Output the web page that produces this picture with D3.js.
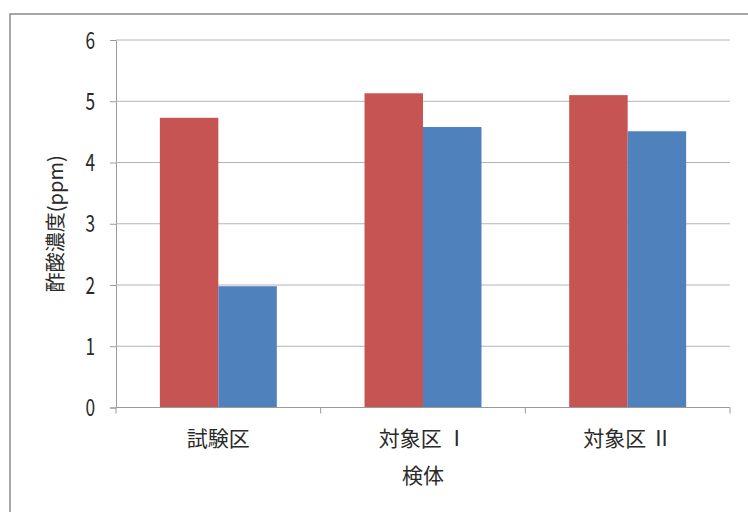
<!DOCTYPE html>
<html>
<head>
<meta charset="utf-8">
<script src="https://cdn.jsdelivr.net/npm/d3@7"></script>
<style>
  html, body { margin: 0; padding: 0; background: #fff; }
  svg { display: block; }
  text { font-family: "Noto Sans CJK JP", "Noto Sans", sans-serif; fill: #2a2a2a; }
</style>
</head>
<body>
<svg id="chart" width="748" height="512"></svg>
<script>
// Samples and acetic-acid concentration (ppm) for the two measured series
const categories = ["試験区", "対象区 Ⅰ", "対象区 Ⅱ"];
const seriesNames = ["前", "後"];
const seriesA = [4.73, 5.13, 5.10];
const seriesB = [1.98, 4.58, 4.51];
const yTicks = [0, 1, 2, 3, 4, 5, 6];
const yTitle = "酢酸濃度(ppm)";
const xTitle = "検体";
const colors = ["#c65452", "#4f81bd"];

const svg = d3.select("#chart");
const margin = { left: 116, right: 18, top: 40, bottom: 104.5 };
const W = 748, H = 512;
const plotW = W - margin.left - margin.right;
const plotH = H - margin.top - margin.bottom;

// Outer chart frame (extends past the right and bottom edges)
svg.append("rect")
  .attr("x", 10).attr("y", 14)
  .attr("width", 760).attr("height", 520)
  .attr("fill", "#fff")
  .attr("stroke", "#8a8a8a")
  .attr("stroke-width", 1.5);

const g = svg.append("g").attr("transform", `translate(${margin.left},${margin.top})`);

const x = d3.scaleBand().domain(categories).range([0, plotW]).paddingInner(0).paddingOuter(0);
// Gap between groups is 150% of a single bar width
const barW = x.bandwidth() / 3.5;
const x1 = d3.scaleBand().domain(seriesNames).range([0.75 * barW, x.bandwidth() - 0.75 * barW]).padding(0);
const y = d3.scaleLinear().domain([0, 6]).range([plotH, 0]);

// Horizontal gridlines and y-axis
const yAxis = g.append("g")
  .call(d3.axisLeft(y).tickValues(yTicks).tickSize(6).tickPadding(10).tickFormat(d3.format("d")));
yAxis.select(".domain").attr("stroke", "#9a9a9a");
yAxis.selectAll(".tick line").attr("stroke", "#9a9a9a");
yAxis.selectAll(".tick text")
  .style("font-size", "24px")
  .attr("transform", "scale(0.72,1)")
  .attr("x", -21 / 0.72)
  .attr("dy", "0.34em")
  .attr("fill", "#333");

g.append("g").selectAll("line.grid")
  .data(yTicks.filter(d => d > 0))
  .join("line")
  .attr("class", "grid")
  .attr("x1", 0).attr("x2", plotW)
  .attr("y1", d => y(d)).attr("y2", d => y(d))
  .attr("stroke", "#b4b4b4").attr("stroke-width", 1);

// Bars
const rows = categories.map((c, i) => ({ cat: c, vals: [seriesA[i], seriesB[i]] }));
const grp = g.append("g").selectAll("g.cat")
  .data(rows).join("g")
  .attr("class", "cat")
  .attr("transform", d => `translate(${x(d.cat)},0)`);
grp.selectAll("rect")
  .data(d => d.vals.map((v, j) => ({ key: seriesNames[j], v, j })))
  .join("rect")
  .attr("x", d => x1(d.key))
  .attr("width", x1.bandwidth())
  .attr("y", d => y(d.v))
  .attr("height", d => plotH - y(d.v))
  .attr("fill", d => colors[d.j]);

// x-axis with ticks at category boundaries
const xb = g.append("g").attr("transform", `translate(0,${plotH})`);
xb.append("line").attr("x1", 0).attr("x2", plotW).attr("stroke", "#9a9a9a");
xb.selectAll("line.tk")
  .data(d3.range(categories.length + 1))
  .join("line").attr("class", "tk")
  .attr("x1", i => i * x.bandwidth()).attr("x2", i => i * x.bandwidth())
  .attr("y1", 0).attr("y2", 6)
  .attr("stroke", "#9a9a9a");
xb.selectAll("text.cat")
  .data(categories)
  .join("text").attr("class", "cat")
  .attr("x", d => x(d) + x.bandwidth() / 2)
  .attr("y", 38)
  .attr("text-anchor", "middle")
  .style("font-size", "21px")
  .text(d => d);

// Axis titles
g.append("text")
  .attr("x", plotW / 2).attr("y", plotH + 75)
  .attr("text-anchor", "middle")
  .style("font-size", "21px")
  .text(xTitle);

svg.append("text")
  .attr("transform", `translate(63,${margin.top + plotH / 2}) rotate(-90)`)
  .attr("text-anchor", "middle")
  .style("font-size", "20px")
  .text(yTitle);
</script>
</body>
</html>
